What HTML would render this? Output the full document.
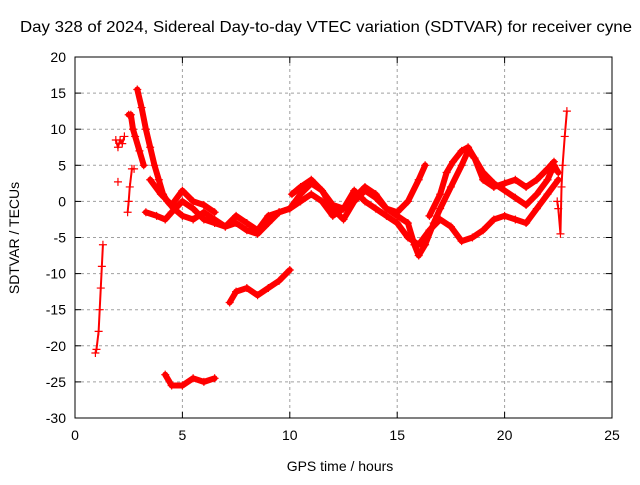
<!DOCTYPE html>
<html><head><meta charset="utf-8"><style>
body{margin:0;background:#fff}
svg text{font-family:"Liberation Sans",sans-serif;font-size:14px;fill:#000}
</style></head><body>
<svg width="640" height="480">
<g id="grid"></g>
<g id="axes"></g>
<g id="marks"></g>
<text x="326" y="32" text-anchor="middle" textLength="612" lengthAdjust="spacingAndGlyphs" style="font-size:16px">Day 328 of 2024, Sidereal Day-to-day VTEC variation (SDTVAR) for receiver cyne</text>
<text x="340" y="471" text-anchor="middle">GPS time / hours</text>
<text transform="translate(19,238) rotate(-90)" text-anchor="middle">SDTVAR / TECUs</text>
</svg>
<script>
const xTicks=[0,5,10,15,20,25];
const yTicks=[20,15,10,5,0,-5,-10,-15,-20,-25,-30];
const seg1=[[0.95,-21],[1.0,-20.5],[1.1,-18],[1.15,-15],[1.2,-12],[1.25,-9],[1.3,-6]];
const seg2=[[1.9,8.5],[2.0,7.5],[2.1,8.5],[2.2,8],[2.3,9]];
const seg2b=[[2.0,2.7]];
const seg3=[[2.45,-1.5],[2.5,0],[2.55,2],[2.65,4.5],[2.75,4.5]];
const seg3b=[[2.5,12],[2.6,12],[2.7,10],[2.8,9],[3.0,7],[3.2,5]];
const curve1=[[2.9,15.5],[3.1,13],[3.3,10],[3.5,7.5],[3.7,5],[3.9,3],[4.1,1],[4.3,0],[4.6,-1],[5.0,-2],[5.5,-2.5],[6,-1.5],[6.5,-2.5],[7,-3.5],[7.5,-3],[8,-4],[8.5,-4.5],[9,-3],[9.5,-1.5],[10,-1],[10.5,1],[11,2.5],[11.5,1.5],[12,-1],[12.5,-2.5],[13,0],[13.5,1.5],[14,0.5],[14.5,-1],[15,-2],[15.5,-3],[15.8,-6],[16,-7.5],[16.3,-6],[16.7,-3],[17,-1],[17.5,2],[18,5],[18.3,7],[18.6,6],[19,4],[19.5,2.5],[20,1.5],[20.5,0.5],[21,-0.5],[21.5,1],[22,3],[22.3,5],[22.5,4]];
const curve2=[[3.3,-1.5],[3.8,-2],[4.2,-2.5],[4.5,-1.5],[5,0],[5.5,-1],[6,-2.5],[6.5,-3],[7,-3.5],[7.5,-2],[8,-3],[8.5,-4],[9,-2],[9.5,-1.5],[10,-1],[10.5,0],[11,1],[11.5,0],[12,-2],[12.5,-1],[13,1.5],[13.5,0],[14,-1],[14.5,-2],[15,-3],[15.5,-5],[16,-6],[16.5,-4],[17,-2.5],[17.5,-3.5],[18,-5.5],[18.5,-5],[19,-4],[19.5,-2.5],[20,-2],[20.5,-2.5],[21,-3],[21.5,-1],[22,1],[22.5,3]];
const curve3a=[[3.5,3],[4,1],[4.5,-0.5],[5,1.5],[5.5,0],[6,-0.5],[6.5,-1.5]];
const curve3b=[[10.1,1],[10.5,2],[11,3],[11.5,1.5],[12,-0.5],[12.5,-1],[13,0.5],[13.5,2],[14,1],[14.5,-1],[15,-1.5],[15.5,0],[16,3],[16.3,5]];
const curve3c=[[16.5,-2],[17,1],[17.3,4],[17.6,5.5],[18,7],[18.3,7.5],[18.6,6],[19,3],[19.5,2],[20,2.5],[20.5,3],[21,2],[21.5,3],[22,4.5],[22.3,5.5]];
const seg4=[[22.45,0],[22.5,-1],[22.6,-4.5],[22.65,2],[22.7,5],[22.8,9],[22.9,12.5]];
const seg5=[[7.2,-14],[7.5,-12.5],[8,-12],[8.5,-13],[9,-12],[9.5,-11],[10,-9.5]];
const seg6=[[4.2,-24],[4.5,-25.5],[5,-25.5],[5.5,-24.5],[6,-25],[6.5,-24.5]];
const thick=[curve1,curve2,curve3a,curve3b,curve3c,seg5,seg6,seg3b];
const thin=[seg1,seg2,seg2b,seg3,seg4];
const X0=75,X1=612,Y0=418,Y1=57;
const sx=v=>X0+(v-0)/(25-0)*(X1-X0);
const sy=v=>Y0-(v+30)/(50)*(Y0-Y1);
const NS="http://www.w3.org/2000/svg";
function mk(t,a,p){const e=document.createElementNS(NS,t);for(const k in a)e.setAttribute(k,a[k]);p.appendChild(e);return e;}
const g=document.getElementById('grid'),ax=document.getElementById('axes'),m=document.getElementById('marks');
xTicks.forEach(t=>{const x=sx(t);
 if(t>0&&t<25){const l=mk('line',{x1:x,x2:x,y1:Y1,y2:Y0,stroke:'#a0a0a0','stroke-dasharray':'3,3'},g);}
 mk('line',{x1:x,x2:x,y1:Y0,y2:Y0-6,stroke:'#000'},ax);mk('line',{x1:x,x2:x,y1:Y1,y2:Y1+6,stroke:'#000'},ax);
 const tx=mk('text',{x:x,y:Y0+22,'text-anchor':'middle'},ax);tx.textContent=t;
 });
yTicks.forEach(t=>{const y=sy(t);
 if(t>-30&&t<20){const l=mk('line',{x1:X0,x2:X1,y1:y,y2:y,stroke:'#a0a0a0','stroke-dasharray':'3,3'},g);}
 mk('line',{x1:X0,x2:X0+6,y1:y,y2:y,stroke:'#000'},ax);mk('line',{x1:X1,x2:X1-6,y1:y,y2:y,stroke:'#000'},ax);
 const tx=mk('text',{x:X0-9,y:y+5,'text-anchor':'end'},ax);tx.textContent=t;
 });
mk('rect',{x:X0,y:Y1,width:X1-X0,height:Y0-Y1,fill:'none',stroke:'#000'},ax);
function plus(x,y){mk('path',{d:`M${x-4} ${y}h8M${x} ${y-4}v8`,stroke:'#f00','stroke-width':1.2},m);}
thick.forEach(s=>{const pl=mk('polyline',{points:s.map(p=>sx(p[0])+','+sy(p[1])).join(' '),fill:'none',stroke:'#f00','stroke-width':6,'stroke-linejoin':'round','stroke-linecap':'round'},m);
 
 s.forEach(p=>plus(sx(p[0]),sy(p[1])));});
thin.forEach(s=>{const pl=mk('polyline',{points:s.map(p=>sx(p[0])+','+sy(p[1])).join(' '),fill:'none',stroke:'#f00','stroke-width':2},m);
 
 s.forEach(p=>plus(sx(p[0]),sy(p[1])));});
</script>
</body></html>
